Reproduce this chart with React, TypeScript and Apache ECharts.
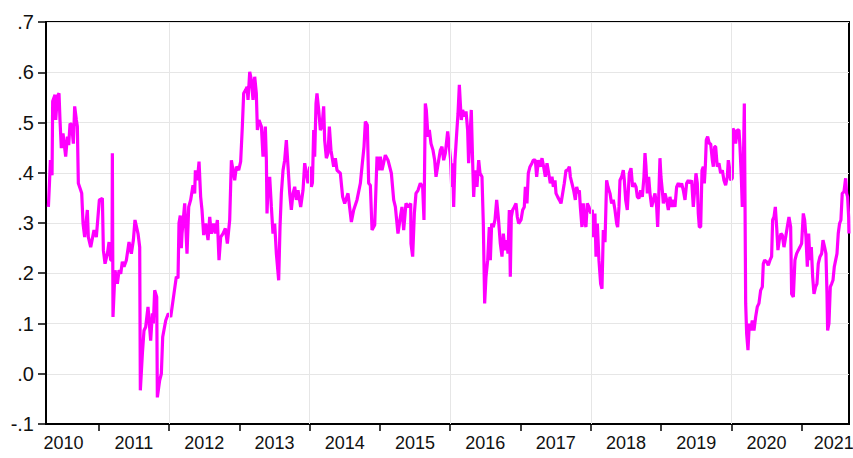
import React, { useEffect, useRef } from "react";
import * as echarts from "echarts";

// Decimal-year positions of the observations
const years: number[] = [
  2010.284, 2010.298, 2010.312, 2010.336, 2010.345, 2010.378, 2010.388, 2010.412, 2010.435, 2010.449,
  2010.468, 2010.492, 2010.530, 2010.554, 2010.573, 2010.592, 2010.616, 2010.639, 2010.658, 2010.682,
  2010.696, 2010.710, 2010.744, 2010.758, 2010.777, 2010.800, 2010.838, 2010.852, 2010.886, 2010.933,
  2010.966, 2011.009, 2011.052, 2011.066, 2011.090, 2011.123, 2011.147, 2011.170, 2011.189, 2011.194,
  2011.203, 2011.232, 2011.265, 2011.289, 2011.313, 2011.336, 2011.360, 2011.393, 2011.431, 2011.464,
  2011.493, 2011.516, 2011.559, 2011.583, 2011.592, 2011.621, 2011.644, 2011.668, 2011.701, 2011.739,
  2011.763, 2011.777, 2011.796, 2011.825, 2011.834, 2011.867, 2011.891, 2011.910, 2011.953, 2011.990,
  2012.024, 2012.071, 2012.104, 2012.128, 2012.142, 2012.160, 2012.175, 2012.185, 2012.223, 2012.256,
  2012.280, 2012.308, 2012.341, 2012.365, 2012.375, 2012.403, 2012.427, 2012.450, 2012.469, 2012.493,
  2012.522, 2012.555, 2012.579, 2012.602, 2012.635, 2012.659, 2012.688, 2012.711, 2012.735, 2012.768,
  2012.801, 2012.830, 2012.863, 2012.887, 2012.910, 2012.934, 2012.958, 2012.991, 2013.019, 2013.043,
  2013.062, 2013.091, 2013.110, 2013.124, 2013.148, 2013.171, 2013.195, 2013.219, 2013.242, 2013.257,
  2013.280, 2013.314, 2013.337, 2013.370, 2013.385, 2013.394, 2013.408, 2013.432, 2013.456, 2013.479,
  2013.503, 2013.527, 2013.560, 2013.579, 2013.598, 2013.622, 2013.645, 2013.669, 2013.693, 2013.717,
  2013.740, 2013.764, 2013.788, 2013.811, 2013.835, 2013.873, 2013.906, 2013.930, 2013.954, 2013.977,
  2014.001, 2014.025, 2014.040, 2014.058, 2014.072, 2014.091, 2014.105, 2014.129, 2014.153, 2014.176,
  2014.200, 2014.214, 2014.238, 2014.262, 2014.281, 2014.304, 2014.342, 2014.366, 2014.390, 2014.437,
  2014.470, 2014.499, 2014.546, 2014.594, 2014.627, 2014.674, 2014.722, 2014.745, 2014.774, 2014.793,
  2014.821, 2014.840, 2014.864, 2014.888, 2014.926, 2014.959, 2014.982, 2015.006, 2015.030, 2015.077,
  2015.115, 2015.163, 2015.196, 2015.220, 2015.257, 2015.291, 2015.314, 2015.338, 2015.371, 2015.409,
  2015.438, 2015.442, 2015.466, 2015.490, 2015.513, 2015.542, 2015.575, 2015.608, 2015.627, 2015.646,
  2015.660, 2015.684, 2015.703, 2015.727, 2015.755, 2015.779, 2015.798, 2015.836, 2015.860, 2015.883,
  2015.907, 2015.931, 2015.964, 2015.987, 2016.006, 2016.021, 2016.035, 2016.049, 2016.068, 2016.092,
  2016.111, 2016.130, 2016.144, 2016.158, 2016.177, 2016.201, 2016.225, 2016.248, 2016.262, 2016.281,
  2016.300, 2016.319, 2016.334, 2016.353, 2016.381, 2016.405, 2016.424, 2016.452, 2016.471, 2016.490,
  2016.509, 2016.533, 2016.556, 2016.571, 2016.590, 2016.613, 2016.637, 2016.661, 2016.684, 2016.713,
  2016.737, 2016.756, 2016.779, 2016.803, 2016.822, 2016.841, 2016.855, 2016.869, 2016.888, 2016.912,
  2016.936, 2016.955, 2016.974, 2017.007, 2017.031, 2017.054, 2017.069, 2017.092, 2017.111, 2017.135,
  2017.163, 2017.182, 2017.211, 2017.230, 2017.254, 2017.282, 2017.306, 2017.329, 2017.353, 2017.377,
  2017.401, 2017.424, 2017.448, 2017.467, 2017.491, 2017.505, 2017.529, 2017.552, 2017.576, 2017.600,
  2017.623, 2017.647, 2017.671, 2017.695, 2017.709, 2017.732, 2017.756, 2017.780, 2017.799, 2017.823,
  2017.837, 2017.851, 2017.874, 2017.893, 2017.908, 2017.931, 2017.950, 2017.974, 2017.998, 2018.021,
  2018.036, 2018.059, 2018.074, 2018.093, 2018.116, 2018.140, 2018.159, 2018.178, 2018.202, 2018.225,
  2018.244, 2018.273, 2018.296, 2018.320, 2018.344, 2018.368, 2018.382, 2018.401, 2018.415, 2018.439,
  2018.462, 2018.477, 2018.496, 2018.519, 2018.548, 2018.572, 2018.595, 2018.619, 2018.643, 2018.662,
  2018.685, 2018.709, 2018.733, 2018.756, 2018.771, 2018.785, 2018.804, 2018.823, 2018.842, 2018.866,
  2018.889, 2018.913, 2018.937, 2018.951, 2018.965, 2018.984, 2018.998, 2019.017, 2019.032, 2019.055,
  2019.079, 2019.103, 2019.126, 2019.150, 2019.174, 2019.197, 2019.221, 2019.245, 2019.269, 2019.292,
  2019.316, 2019.340, 2019.363, 2019.387, 2019.411, 2019.435, 2019.458, 2019.482, 2019.496, 2019.515,
  2019.529, 2019.544, 2019.563, 2019.582, 2019.600, 2019.615, 2019.629, 2019.643, 2019.662, 2019.686,
  2019.705, 2019.729, 2019.743, 2019.762, 2019.776, 2019.799, 2019.823, 2019.847, 2019.871, 2019.894,
  2019.918, 2019.942, 2019.956, 2019.975, 2019.989, 2020.013, 2020.022, 2020.046, 2020.060, 2020.084,
  2020.108, 2020.122, 2020.141, 2020.155, 2020.169, 2020.184, 2020.193, 2020.203, 2020.217, 2020.236,
  2020.255, 2020.274, 2020.297, 2020.321, 2020.345, 2020.368, 2020.392, 2020.416, 2020.440, 2020.454,
  2020.473, 2020.501, 2020.525, 2020.549, 2020.572, 2020.587, 2020.606, 2020.625, 2020.644, 2020.662,
  2020.681, 2020.705, 2020.724, 2020.748, 2020.772, 2020.795, 2020.819, 2020.843, 2020.857, 2020.881,
  2020.904, 2020.928, 2020.952, 2020.975, 2020.999, 2021.023, 2021.042, 2021.061, 2021.080, 2021.099,
  2021.118, 2021.137, 2021.156, 2021.175, 2021.198, 2021.217, 2021.236, 2021.260, 2021.284, 2021.303,
  2021.326, 2021.345, 2021.360, 2021.369, 2021.388, 2021.407, 2021.426, 2021.445, 2021.464, 2021.483,
  2021.502, 2021.520, 2021.539, 2021.558, 2021.577, 2021.601, 2021.625, 2021.639, 2021.653, 2021.668,
  2021.672,
];

const values: number[] = [
  0.332, 0.375, 0.425, 0.395, 0.542, 0.555, 0.505, 0.552, 0.558, 0.505,
  0.449, 0.478, 0.432, 0.472, 0.455, 0.498, 0.495, 0.458, 0.532, 0.505,
  0.492, 0.379, 0.365, 0.359, 0.299, 0.272, 0.326, 0.272, 0.252, 0.286,
  0.272, 0.346, 0.349, 0.246, 0.219, 0.239, 0.262, 0.226, 0.226, 0.439,
  0.113, 0.206, 0.179, 0.206, 0.199, 0.223, 0.213, 0.226, 0.262, 0.239,
  0.266, 0.306, 0.279, 0.252, -0.033, 0.040, 0.086, 0.093, 0.133, 0.066,
  0.120, 0.100, 0.166, 0.153, -0.047, -0.013, 0.000, 0.073, 0.106, 0.120,
  0.113, 0.160, 0.193, 0.190, 0.300, 0.315, 0.250, 0.279, 0.339, 0.239,
  0.332, 0.346, 0.375, 0.359, 0.405, 0.385, 0.422, 0.352, 0.326, 0.276,
  0.299, 0.266, 0.312, 0.279, 0.299, 0.279, 0.306, 0.226, 0.272, 0.279,
  0.289, 0.259, 0.306, 0.425, 0.405, 0.385, 0.412, 0.405, 0.422, 0.492,
  0.558, 0.565, 0.571, 0.545, 0.601, 0.585, 0.545, 0.591, 0.558, 0.485,
  0.505, 0.492, 0.432, 0.492, 0.425, 0.319, 0.372, 0.392, 0.332, 0.279,
  0.299, 0.239, 0.186, 0.292, 0.359, 0.405, 0.425, 0.465, 0.412, 0.359,
  0.326, 0.359, 0.372, 0.346, 0.365, 0.332, 0.365, 0.419, 0.399, 0.379,
  0.412, 0.372, 0.380, 0.485, 0.432, 0.538, 0.558, 0.525, 0.485, 0.492,
  0.532, 0.465, 0.429, 0.439, 0.492, 0.445, 0.412, 0.429, 0.405, 0.399,
  0.352, 0.339, 0.359, 0.302, 0.326, 0.346, 0.379, 0.412, 0.452, 0.502,
  0.495, 0.379, 0.375, 0.286, 0.296, 0.432, 0.405, 0.432, 0.405, 0.435,
  0.425, 0.399, 0.346, 0.332, 0.279, 0.312, 0.332, 0.286, 0.339, 0.332,
  0.339, 0.259, 0.233, 0.319, 0.359, 0.365, 0.379, 0.372, 0.306, 0.538,
  0.525, 0.472, 0.485, 0.458, 0.445, 0.425, 0.392, 0.425, 0.445, 0.452,
  0.425, 0.439, 0.482, 0.452, 0.425, 0.372, 0.419, 0.332, 0.425, 0.478,
  0.518, 0.575, 0.538, 0.505, 0.525, 0.512, 0.522, 0.485, 0.419, 0.470,
  0.525, 0.422, 0.352, 0.405, 0.372, 0.425, 0.399, 0.392, 0.299, 0.140,
  0.193, 0.226, 0.292, 0.226, 0.299, 0.292, 0.306, 0.346, 0.312, 0.259,
  0.233, 0.279, 0.246, 0.266, 0.239, 0.326, 0.193, 0.312, 0.326, 0.332,
  0.339, 0.312, 0.299, 0.306, 0.326, 0.332, 0.372, 0.339, 0.399, 0.412,
  0.419, 0.425, 0.425, 0.392, 0.425, 0.412, 0.429, 0.412, 0.392, 0.419,
  0.399, 0.379, 0.392, 0.372, 0.385, 0.359, 0.352, 0.346, 0.339, 0.359,
  0.379, 0.405, 0.405, 0.412, 0.392, 0.379, 0.365, 0.346, 0.372, 0.359,
  0.365, 0.332, 0.292, 0.339, 0.306, 0.292, 0.339, 0.332, 0.319, 0.326,
  0.272, 0.319, 0.233, 0.299, 0.226, 0.179, 0.169, 0.286, 0.262, 0.385,
  0.372, 0.359, 0.339, 0.346, 0.326, 0.299, 0.292, 0.332, 0.385, 0.392,
  0.405, 0.385, 0.346, 0.326, 0.399, 0.409, 0.372, 0.379, 0.372, 0.352,
  0.349, 0.365, 0.352, 0.392, 0.439, 0.412, 0.359, 0.392, 0.359, 0.332,
  0.346, 0.359, 0.332, 0.292, 0.346, 0.429, 0.392, 0.365, 0.339, 0.359,
  0.346, 0.326, 0.352, 0.332, 0.346, 0.332, 0.372, 0.379, 0.372, 0.379,
  0.365, 0.346, 0.379, 0.385, 0.379, 0.385, 0.332, 0.372, 0.399, 0.379,
  0.319, 0.292, 0.292, 0.405, 0.412, 0.379, 0.412, 0.465, 0.472, 0.458,
  0.458, 0.425, 0.412, 0.452, 0.452, 0.412, 0.419, 0.399, 0.405, 0.385,
  0.375, 0.392, 0.425, 0.405, 0.385, 0.389, 0.488, 0.482, 0.458, 0.485,
  0.485, 0.452, 0.392, 0.332, 0.405, 0.538, 0.359, 0.140, 0.080, 0.047,
  0.100, 0.086, 0.106, 0.086, 0.113, 0.133, 0.140, 0.166, 0.173, 0.219,
  0.226, 0.223, 0.216, 0.226, 0.233, 0.306, 0.312, 0.332, 0.292, 0.246,
  0.266, 0.279, 0.276, 0.252, 0.272, 0.292, 0.312, 0.292, 0.159, 0.153,
  0.226, 0.239, 0.246, 0.252, 0.259, 0.319, 0.306, 0.272, 0.213, 0.279,
  0.226, 0.252, 0.193, 0.159, 0.173, 0.179, 0.219, 0.233, 0.239, 0.266,
  0.252, 0.239, 0.159, 0.086, 0.100, 0.173, 0.179, 0.186, 0.213, 0.226,
  0.239, 0.279, 0.299, 0.306, 0.359, 0.362, 0.389, 0.359, 0.352, 0.312,
  0.279,
];

const xMin = 2010.25;
const xMax = 2021.673;
const yearTicks: number[] = [2011, 2012, 2013, 2014, 2015, 2016, 2017, 2018, 2019, 2020, 2021];
// label anchors: mid-year, the last one nudged left to stay inside the frame
const yearLabelPos: number[] = [
  2010.5, 2011.5, 2012.5, 2013.5, 2014.5, 2015.5, 2016.5, 2017.5, 2018.5, 2019.5, 2020.5, 2021.455,
];
const gridYears: number[] = [2012, 2014, 2016, 2018, 2020];

export default function App() {
  const ref = useRef<HTMLDivElement>(null);

  useEffect(() => {
    if (!ref.current) return;
    const chart = echarts.init(ref.current, undefined, { renderer: "svg" });
    const data = years.map((y, i) => [y, values[i]]);
    chart.setOption({
      animation: false,
      grid: {
        left: 46,
        right: 4,
        top: 22,
        bottom: 34,
        containLabel: false,
        outerBoundsMode: "none",
        show: true,
        borderColor: "#000",
        borderWidth: 2,
        backgroundColor: "#fff",
      },
      xAxis: {
        type: "value",
        min: xMin,
        max: xMax,
        axisLine: { show: true, onZero: false, lineStyle: { color: "#000", width: 2 } },
        axisTick: {
          show: true,
          length: 7,
          customValues: yearTicks,
          lineStyle: { color: "#000", width: 1.5 },
        },
        axisLabel: {
          show: true,
          customValues: yearLabelPos,
          formatter: (v: number) => String(Math.floor(v)),
          color: "#111",
          fontFamily: "Liberation Sans, Arial, sans-serif",
          fontSize: 18,
          margin: 10,
          hideOverlap: false,
        },
        splitLine: { show: false },
      },
      yAxis: {
        type: "value",
        min: -0.1,
        max: 0.7,
        interval: 0.1,
        axisLine: { show: true, lineStyle: { color: "#000", width: 2 } },
        axisTick: { show: true, length: 8, lineStyle: { color: "#000", width: 1.5 } },
        axisLabel: {
          color: "#111",
          fontFamily: "Liberation Sans, Arial, sans-serif",
          fontSize: 20,
          margin: 12,
          formatter: (v: number) => {
            if (Math.abs(v) < 1e-9) return ".0";
            return v.toFixed(1).replace(/^(-?)0\./, "$1.");
          },
        },
        splitLine: { show: true, lineStyle: { color: "#e6e6e6", width: 1 } },
      },
      series: [
        {
          type: "line",
          data: [],
          z: 1,
          silent: true,
          markLine: {
            silent: true,
            symbol: ["none", "none"],
            label: { show: false },
            lineStyle: { color: "#e6e6e6", width: 1, type: "solid" },
            data: gridYears.map((y) => ({ xAxis: y })),
          },
        },
        {
          type: "line",
          data,
          z: 3,
          showSymbol: false,
          symbol: "none",
          lineStyle: { color: "#ff00ff", width: 3.2 },
          itemStyle: { color: "#ff00ff" },
        },
      ],
    });
    return () => chart.dispose();
  }, []);

  return (
    <div
      ref={ref}
      style={{ position: "fixed", left: 0, top: 0, width: 853, height: 458, background: "#fff" }}
    />
  );
}
